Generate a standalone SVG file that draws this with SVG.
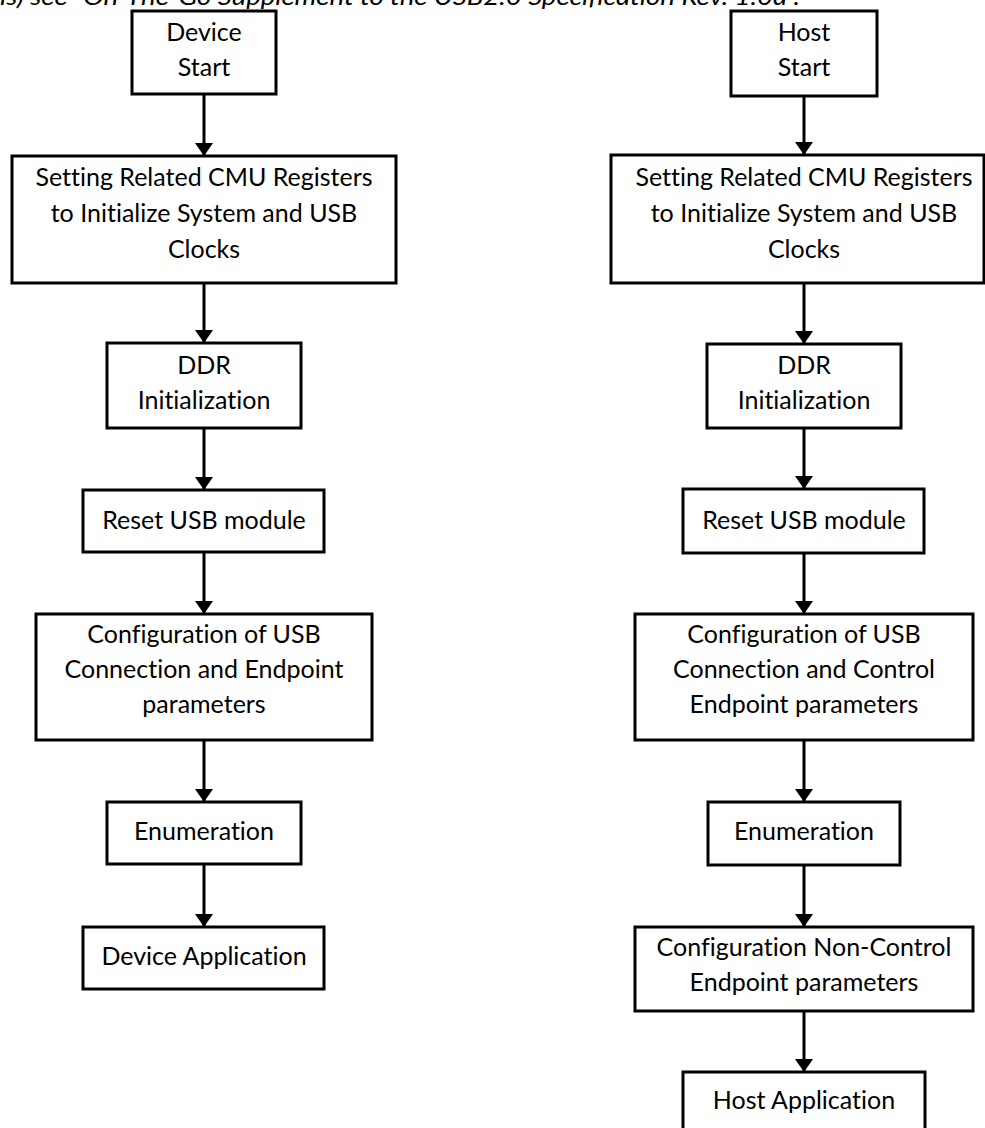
<svg xmlns="http://www.w3.org/2000/svg" width="985" height="1128" viewBox="0 0 985 1128">
<defs>
<style>
.box{fill:#fff;stroke:#000;stroke-width:3}
.t{font-family:Lato,"Liberation Sans",sans-serif;font-size:25px;fill:#000;text-anchor:middle;font-variant-ligatures:none}
.cap{font-family:Lato,"Liberation Sans",sans-serif;font-size:24px;font-style:italic;fill:#000;font-variant-ligatures:none}
.c{stroke:#000;stroke-width:3;fill:none;marker-end:url(#ah)}
</style>
<marker id="ah" viewBox="0 0 13 18" refX="13" refY="9" markerWidth="13" markerHeight="18" markerUnits="userSpaceOnUse" orient="auto">
<path d="M0,0 L13,9 L0,18 z" fill="#000"/>
</marker>
</defs>
<rect width="985" height="1128" fill="#fff"/>
<text class="cap" x="0" y="5" textLength="800" lengthAdjust="spacingAndGlyphs">ls) see “On-The-Go Supplement to the USB2.0 Specification Rev. 1.0a”.</text>

<g id="connectors">
<line class="c" x1="204" y1="94" x2="204" y2="156"/>
<line class="c" x1="204" y1="283" x2="204" y2="343"/>
<line class="c" x1="204" y1="428" x2="204" y2="490"/>
<line class="c" x1="204" y1="552" x2="204" y2="614"/>
<line class="c" x1="204" y1="740" x2="204" y2="802"/>
<line class="c" x1="204" y1="864" x2="204" y2="927"/>
<line class="c" x1="804" y1="96" x2="804" y2="155"/>
<line class="c" x1="804" y1="283" x2="804" y2="344"/>
<line class="c" x1="804" y1="428" x2="804" y2="489"/>
<line class="c" x1="804" y1="553" x2="804" y2="614"/>
<line class="c" x1="804" y1="740" x2="804" y2="802"/>
<line class="c" x1="804" y1="865" x2="804" y2="927"/>
<line class="c" x1="804" y1="1011" x2="804" y2="1072"/>
</g>

<g id="device-start"><rect class="box" x="132" y="11" width="144" height="83"/><text class="t" x="204" y="41">Device</text><text class="t" x="204" y="76">Start</text></g>
<g id="device-cmu"><rect class="box" x="12" y="156" width="384" height="127"/><text class="t" x="204" y="186">Setting Related CMU Registers</text><text class="t" x="204" y="222">to Initialize System and USB</text><text class="t" x="204" y="258">Clocks</text></g>
<g id="device-ddr"><rect class="box" x="107" y="343" width="194" height="85"/><text class="t" x="204" y="374">DDR</text><text class="t" x="204" y="409">Initialization</text></g>
<g id="device-reset"><rect class="box" x="83" y="490" width="241" height="62"/><text class="t" x="204" y="529">Reset USB module</text></g>
<g id="device-config"><rect class="box" x="36" y="614" width="336" height="126"/><text class="t" x="204" y="643">Configuration of USB</text><text class="t" x="204" y="678">Connection and Endpoint</text><text class="t" x="204" y="713">parameters</text></g>
<g id="device-enum"><rect class="box" x="107" y="802" width="194" height="62"/><text class="t" x="204" y="840">Enumeration</text></g>
<g id="device-app"><rect class="box" x="83" y="927" width="241" height="62"/><text class="t" x="204" y="965">Device Application</text></g>

<g id="host-start"><rect class="box" x="731" y="11" width="146" height="85"/><text class="t" x="804" y="41">Host</text><text class="t" x="804" y="76">Start</text></g>
<g id="host-cmu"><rect class="box" x="611" y="155" width="373" height="128"/><text class="t" x="804" y="186">Setting Related CMU Registers</text><text class="t" x="804" y="222">to Initialize System and USB</text><text class="t" x="804" y="258">Clocks</text></g>
<g id="host-ddr"><rect class="box" x="707" y="344" width="194" height="84"/><text class="t" x="804" y="374">DDR</text><text class="t" x="804" y="409">Initialization</text></g>
<g id="host-reset"><rect class="box" x="683" y="489" width="241" height="64"/><text class="t" x="804" y="529">Reset USB module</text></g>
<g id="host-config"><rect class="box" x="635" y="614" width="338" height="126"/><text class="t" x="804" y="643">Configuration of USB</text><text class="t" x="804" y="678">Connection and Control</text><text class="t" x="804" y="713">Endpoint parameters</text></g>
<g id="host-enum"><rect class="box" x="708" y="802" width="192" height="63"/><text class="t" x="804" y="840">Enumeration</text></g>
<g id="host-noncontrol"><rect class="box" x="635" y="927" width="338" height="84"/><text class="t" x="804" y="956">Configuration Non-Control</text><text class="t" x="804" y="991">Endpoint parameters</text></g>
<g id="host-app"><rect class="box" x="683" y="1072" width="242" height="70"/><text class="t" x="804" y="1109">Host Application</text></g>
</svg>
